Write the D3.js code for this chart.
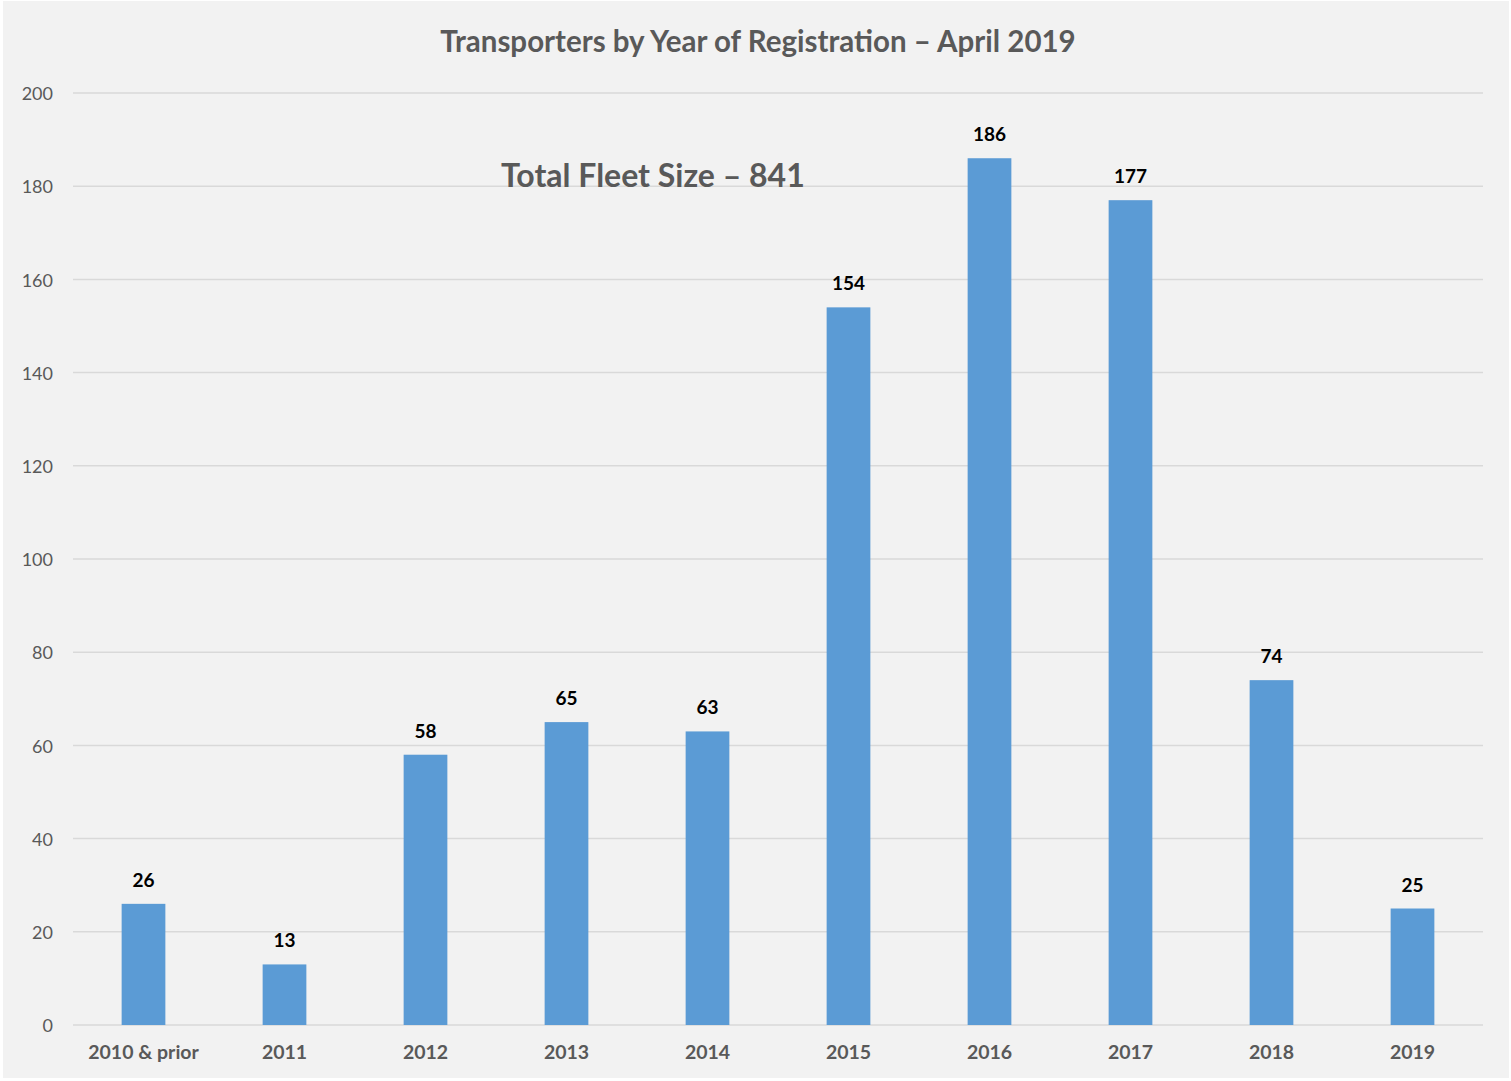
<!DOCTYPE html>
<html>
<head>
<meta charset="utf-8">
<script src="https://cdn.jsdelivr.net/npm/d3@7"></script>
<style>
  html, body { margin: 0; padding: 0; background: #ffffff; }
  svg { display: block; }
  text { font-family: Lato, "Open Sans", sans-serif; }
</style>
</head>
<body>
<svg width="1511" height="1081"></svg>
<script>
// chart data
var categories = ['2010 & prior', '2011', '2012', '2013', '2014', '2015', '2016', '2017', '2018', '2019'];
var values = [26, 13, 58, 65, 63, 154, 186, 177, 74, 25];
var yTicks = [0, 20, 40, 60, 80, 100, 120, 140, 160, 180, 200];

var svg = d3.select('svg');

// panel background
svg.append('rect')
   .attr('x', 3).attr('y', 1)
   .attr('width', 1506).attr('height', 1077)
   .style('fill', '#f2f2f2');

var x = d3.scaleBand()
  .domain(categories)
  .range([73, 1483])
  .paddingInner(0.69)
  .paddingOuter(0.345);

var y = d3.scaleLinear()
  .domain([0, 200])
  .range([1025, 93]);

// gridlines
svg.append('g')
   .selectAll('line')
   .data(yTicks)
   .enter().append('line')
   .attr('x1', 73).attr('x2', 1483)
   .attr('y1', function (d) { return y(d); })
   .attr('y2', function (d) { return y(d); })
   .style('stroke', '#d9d9d9')
   .style('stroke-width', 1.5);

// y axis labels
var yAxis = d3.axisLeft(y).tickValues(yTicks).tickSize(0).tickPadding(20);
var gy = svg.append('g').attr('transform', 'translate(73,1)').call(yAxis);
gy.select('.domain').remove();
gy.selectAll('text')
  .attr('font-family', 'Lato, "Open Sans", sans-serif')
  .attr('font-size', '18px')
  .attr('fill', '#595959');

// x axis labels
var xAxis = d3.axisBottom(x).tickSize(0).tickPadding(20);
var gx = svg.append('g').attr('transform', 'translate(0,1025)').call(xAxis);
gx.select('.domain').remove();
gx.selectAll('text')
  .attr('font-family', 'Lato, "Open Sans", sans-serif')
  .attr('font-size', '19.5px')
  .attr('font-weight', 'bold')
  .attr('fill', '#595959');

// bars
svg.append('g')
   .selectAll('rect')
   .data(values)
   .enter().append('rect')
   .attr('x', function (d, i) { return x(categories[i]); })
   .attr('y', function (d) { return y(d); })
   .attr('width', x.bandwidth())
   .attr('height', function (d) { return y(0) - y(d); })
   .style('fill', '#5b9bd5');

// value labels
svg.append('g')
   .selectAll('text')
   .data(values)
   .enter().append('text')
   .attr('x', function (d, i) { return x(categories[i]) + x.bandwidth() / 2; })
   .attr('y', function (d) { return y(d) - 17; })
   .attr('text-anchor', 'middle')
   .attr('font-size', '19px')
   .attr('font-weight', 'bold')
   .attr('fill', '#000000')
   .text(function (d) { return d; });

// title
svg.append('text')
   .attr('x', 758).attr('y', 52)
   .attr('text-anchor', 'middle')
   .attr('font-size', '29.5px')
   .attr('font-weight', 'bold')
   .attr('fill', '#595959')
   .text('Transporters by Year of Registration \u2013 April 2019');

// annotation
svg.append('text')
   .attr('x', 501).attr('y', 187)
   .attr('font-size', '32px')
   .attr('font-weight', 'bold')
   .attr('fill', '#595959')
   .text('Total Fleet Size \u2013 841');
</script>
</body>
</html>
